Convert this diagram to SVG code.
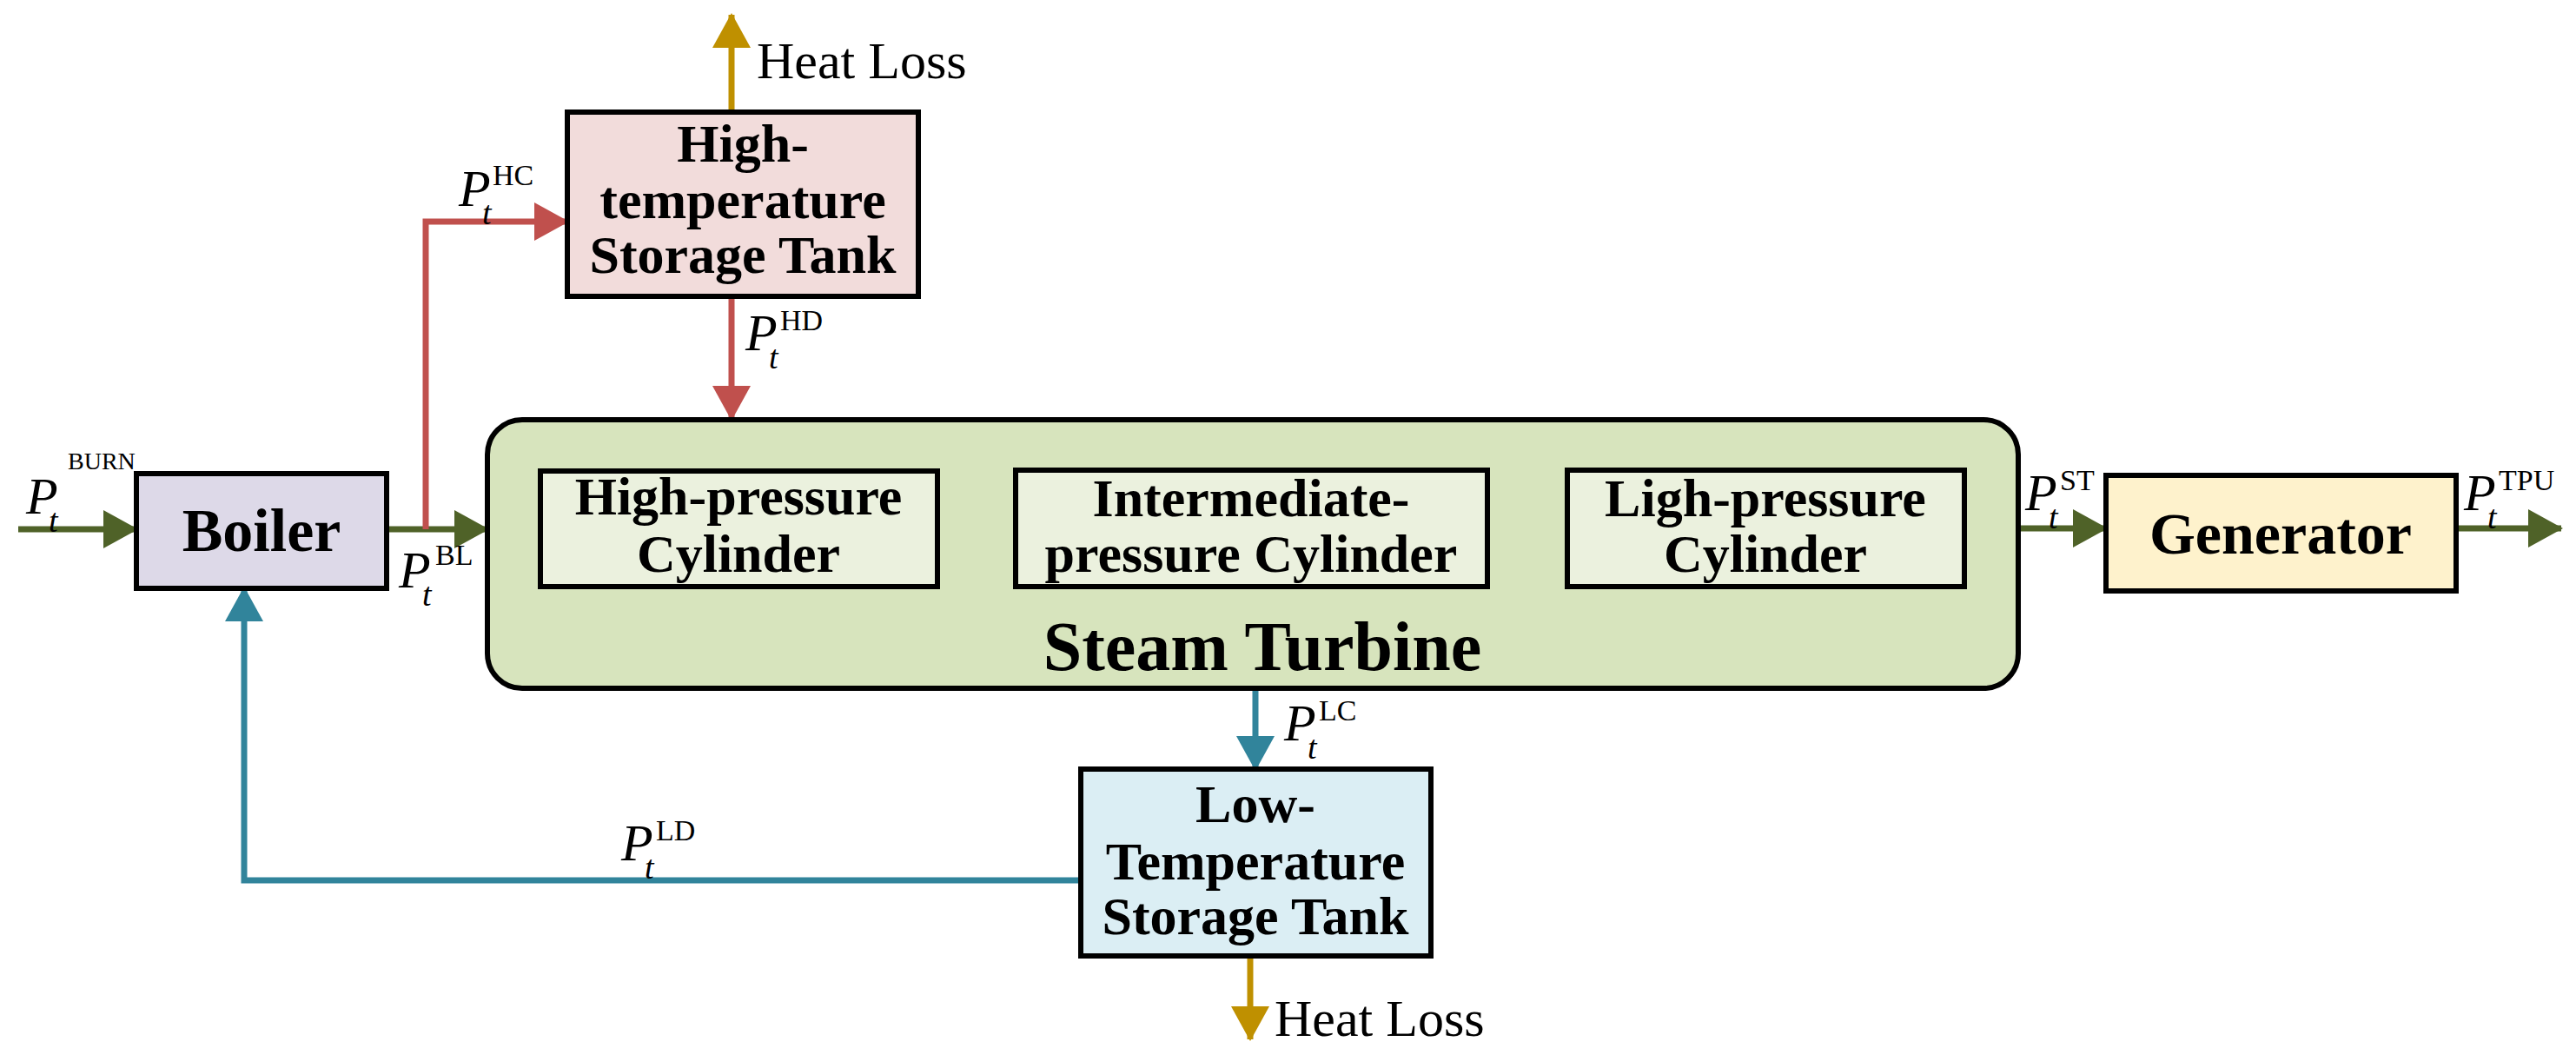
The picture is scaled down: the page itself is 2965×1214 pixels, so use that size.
<svg xmlns="http://www.w3.org/2000/svg" width="2965" height="1214" viewBox="0 0 2965 1214">
<style>
.box{stroke:#000;stroke-width:6}
.bt{font-family:"Liberation Serif",serif;font-weight:bold;font-size:62px;text-anchor:middle}
.lt{font-family:"Liberation Serif",serif;font-size:60px}
.P{font-family:"Liberation Serif",serif;font-style:italic;font-size:60px}
.sup{font-family:"Liberation Serif",serif;font-size:34px}
.sub{font-family:"Liberation Serif",serif;font-style:italic;font-size:38px}
.c{fill:none;stroke-width:7}
</style>
<defs>
<marker id="ag" markerUnits="userSpaceOnUse" markerWidth="40" markerHeight="44" refX="38" refY="22" orient="auto"><path d="M0,0L40,22L0,44Z" fill="#4F6228"/></marker>
<marker id="ar" markerUnits="userSpaceOnUse" markerWidth="40" markerHeight="44" refX="38" refY="22" orient="auto"><path d="M0,0L40,22L0,44Z" fill="#C0504D"/></marker>
<marker id="at" markerUnits="userSpaceOnUse" markerWidth="40" markerHeight="44" refX="38" refY="22" orient="auto"><path d="M0,0L40,22L0,44Z" fill="#31849B"/></marker>
<marker id="ay" markerUnits="userSpaceOnUse" markerWidth="40" markerHeight="44" refX="38" refY="22" orient="auto"><path d="M0,0L40,22L0,44Z" fill="#BF9000"/></marker>
</defs>
<g id="connectors">
<path class="c" stroke="#4F6228" d="M21,609H157" marker-end="url(#ag)"/>
<path class="c" stroke="#4F6228" d="M445,609H561" marker-end="url(#ag)"/>
<path class="c" stroke="#C0504D" d="M490,609V255H653" marker-end="url(#ar)"/>
<path class="c" stroke="#C0504D" d="M842,341V482" marker-end="url(#ar)"/>
<path class="c" stroke="#BF9000" d="M842,129V17" marker-end="url(#ay)"/>
<path class="c" stroke="#4F6228" d="M2323,608H2424" marker-end="url(#ag)"/>
<path class="c" stroke="#4F6228" d="M2827,608H2948" marker-end="url(#ag)"/>
<path class="c" stroke="#31849B" d="M1445,792V885" marker-end="url(#at)"/>
<path class="c" stroke="#31849B" d="M1244,1013H281V677" marker-end="url(#at)"/>
<path class="c" stroke="#BF9000" d="M1439,1100V1196" marker-end="url(#ay)"/>
<text class="lt" x="871" y="90">Heat Loss</text>
<text class="lt" x="1467" y="1192">Heat Loss</text>
<text class="P" x="30" y="591">P</text><text class="sup" x="78" y="540" style="font-size:28px">BURN</text><text class="sub" x="56" y="612">t</text>
<text class="P" x="459" y="676">P</text><text class="sup" x="501" y="650">BL</text><text class="sub" x="486" y="697">t</text>
<text class="P" x="528" y="237">P</text><text class="sup" x="567" y="213">HC</text><text class="sub" x="555" y="258">t</text>
<text class="P" x="858" y="403">P</text><text class="sup" x="898" y="380">HD</text><text class="sub" x="885" y="424">t</text>
<text class="P" x="2331" y="587">P</text><text class="sup" x="2371" y="564">ST</text><text class="sub" x="2358" y="608">t</text>
<text class="P" x="2836" y="587">P</text><text class="sup" x="2876" y="564">TPU</text><text class="sub" x="2863" y="608">t</text>
<text class="P" x="1478" y="852">P</text><text class="sup" x="1518" y="829">LC</text><text class="sub" x="1505" y="873">t</text>
<text class="P" x="715" y="990">P</text><text class="sup" x="755" y="967">LD</text><text class="sub" x="742" y="1011">t</text>
</g>
<g id="boiler"><rect class="box" x="157" y="545" width="288" height="132" fill="#DDD9E8"/><text class="bt" x="301" y="634" style="font-size:70px">Boiler</text></g>
<g id="ht-tank"><rect class="box" x="653" y="129" width="404" height="212" fill="#F2DCDB"/>
<text class="bt" x="855" y="186">High-</text><text class="bt" x="855" y="251">temperature</text><text class="bt" x="855" y="314">Storage Tank</text></g>
<g id="steam-turbine"><rect class="box" x="561" y="483" width="1762" height="309" rx="40" fill="#D7E4BD"/>
<text class="bt" x="1453" y="771" style="font-size:80px">Steam Turbine</text></g>
<g id="hp"><rect class="box" x="622" y="542" width="457" height="133" fill="#EBF1DE"/><text class="bt" x="850" y="592">High-pressure</text><text class="bt" x="850" y="658">Cylinder</text></g>
<g id="ip"><rect class="box" x="1169" y="541" width="543" height="134" fill="#EBF1DE"/><text class="bt" x="1440" y="594">Intermediate-</text><text class="bt" x="1440" y="658">pressure Cylinder</text></g>
<g id="lp"><rect class="box" x="1804" y="541" width="457" height="134" fill="#EBF1DE"/><text class="bt" x="2032" y="594">Ligh-pressure</text><text class="bt" x="2032" y="658">Cylinder</text></g>
<g id="generator"><rect class="box" x="2424" y="547" width="403" height="133" fill="#FEF2CC"/><text class="bt" x="2625" y="637" style="font-size:68px">Generator</text></g>
<g id="lt-tank"><rect class="box" x="1244" y="885" width="403" height="215" fill="#DBEEF4"/>
<text class="bt" x="1445" y="946">Low-</text><text class="bt" x="1445" y="1012">Temperature</text><text class="bt" x="1445" y="1075">Storage Tank</text></g>
</svg>
